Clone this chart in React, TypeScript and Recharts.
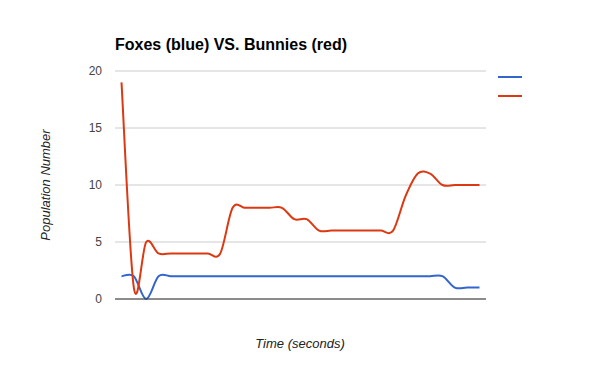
import React from 'react';
import { LineChart, Line, XAxis, YAxis, CartesianGrid, Legend } from 'recharts';

// Sample times (seconds) — category axis, labels hidden
const seconds = [0, 1, 2, 3, 4, 5, 6, 7, 8, 9, 10, 11, 12, 13, 14, 15, 16, 17, 18, 19, 20, 21, 22, 23, 24, 25, 26, 27, 28, 29];

// Population counts per sample
const foxes = [2, 2, 0, 2, 2, 2, 2, 2, 2, 2, 2, 2, 2, 2, 2, 2, 2, 2, 2, 2, 2, 2, 2, 2, 2, 2, 2, 1, 1, 1];
const bunnies = [19, 1, 5, 4, 4, 4, 4, 4, 4, 8, 8, 8, 8, 8, 7, 7, 6, 6, 6, 6, 6, 6, 6, 9, 11, 11, 10, 10, 10, 10];

const yTicks = [0, 5, 10, 15, 20];
const seriesOrder = ['foxes', 'bunnies'];

const data = seconds.map((t, i) => ({ t, foxes: foxes[i], bunnies: bunnies[i] }));

const FOX_COLOR = '#3366cc';
const BUNNY_COLOR = '#dc3912';
const FONT = 'Arial, "Liberation Sans", sans-serif';

// Catmull-Rom spline as a d3-style curve factory (passes through every point, may overshoot)
const catmullRom = (context: any) => {
  let pts: [number, number][] = [];
  return {
    areaStart() {},
    areaEnd() {},
    lineStart() {
      pts = [];
    },
    point(x: number, y: number) {
      pts.push([+x, +y]);
    },
    lineEnd() {
      const n = pts.length;
      if (!n) return;
      context.moveTo(pts[0][0], pts[0][1]);
      for (let i = 0; i < n - 1; i++) {
        const p0 = pts[Math.max(i - 1, 0)];
        const p1 = pts[i];
        const p2 = pts[i + 1];
        const p3 = pts[Math.min(i + 2, n - 1)];
        context.bezierCurveTo(
          p1[0] + (p2[0] - p0[0]) / 6,
          p1[1] + (p2[1] - p0[1]) / 6,
          p2[0] - (p3[0] - p1[0]) / 6,
          p2[1] - (p3[1] - p1[1]) / 6,
          p2[0],
          p2[1]
        );
      }
    },
  };
};

const LegendSwatches = ({ payload }: any) => {
  const entries = [...(payload || [])].sort(
    (a: any, b: any) => seriesOrder.indexOf(a.dataKey) - seriesOrder.indexOf(b.dataKey)
  );
  return (
    <div>
      {entries.map((entry: any, i: number) => (
        <div
          key={i}
          style={{ width: 24, height: 2, background: entry.color, marginBottom: 17 }}
        />
      ))}
    </div>
  );
};

export default function App() {
  return (
    <div style={{ position: 'absolute', left: 0, top: 0, width: 600, height: 371, background: '#fff' }}>
      <LineChart
        width={600}
        height={371}
        data={data}
        margin={{ top: 71, right: 114, bottom: 0, left: 0 }}
      >
        <CartesianGrid horizontal vertical={false} stroke="#cccccc" strokeDasharray="" />
        <XAxis
          dataKey="t"
          type="category"
          height={72}
          tick={false}
          tickLine={false}
          axisLine={{ stroke: '#333333', strokeWidth: 1 }}
          padding={{ left: 6.5, right: 6.5 }}
        />
        <YAxis
          width={115}
          domain={[0, 20]}
          ticks={yTicks}
          interval={0}
          tickLine={false}
          axisLine={false}
          tickMargin={7}
          tick={{ fill: '#444444', fontSize: 12, fontFamily: FONT }}
        />
        <Legend
          layout="vertical"
          align="center"
          verticalAlign="middle"
          wrapperStyle={{ position: 'absolute', left: 498, top: 76, width: 30, margin: 0, padding: 0 }}
          content={<LegendSwatches />}
        />
        <Line
          dataKey="foxes"
          name="Foxes"
          type={catmullRom as any}
          stroke={FOX_COLOR}
          strokeWidth={2}
          dot={false}
          activeDot={false}
          isAnimationActive={false}
        />
        <Line
          dataKey="bunnies"
          name="Bunnies"
          type={catmullRom as any}
          stroke={BUNNY_COLOR}
          strokeWidth={2}
          dot={false}
          activeDot={false}
          isAnimationActive={false}
        />
        <text x={115} y={50} fontFamily={FONT} fontWeight="bold" fontSize={16} fill="#000000">
          Foxes (blue) VS. Bunnies (red)
        </text>
        <text
          x={45}
          y={185}
          dy="0.35em"
          transform="rotate(-90 45 185)"
          textAnchor="middle"
          fontFamily={FONT}
          fontStyle="italic"
          fontSize={13}
          fill="#222222"
        >
          Population Number
        </text>
        <text
          x={300}
          y={348}
          textAnchor="middle"
          fontFamily={FONT}
          fontStyle="italic"
          fontSize={13}
          fill="#222222"
        >
          Time (seconds)
        </text>
      </LineChart>
    </div>
  );
}
